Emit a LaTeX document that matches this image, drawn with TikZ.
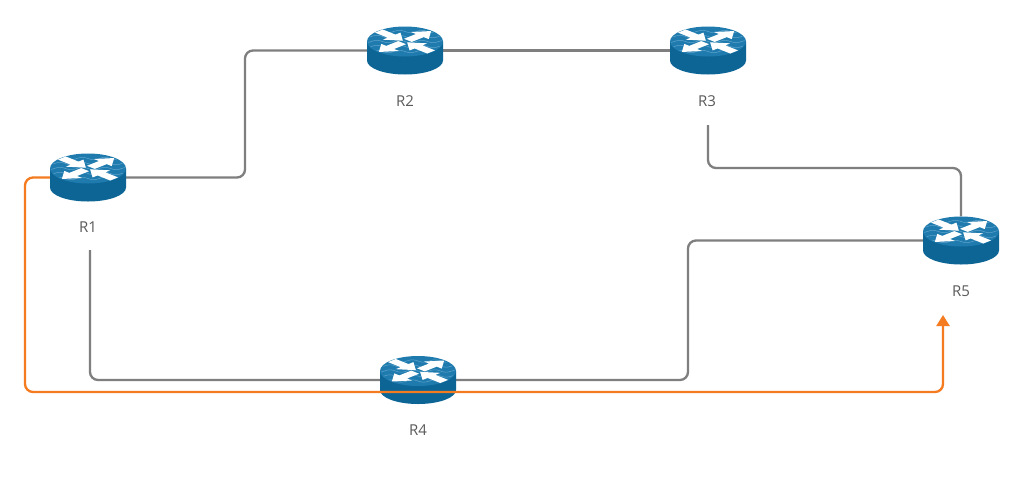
\documentclass[tikz,border=0pt]{standalone}
\usepackage{fontspec}
\setmainfont{Open Sans}
\usetikzlibrary{arrows.meta}
\definecolor{rtop}{HTML}{1F7BAE}
\definecolor{rside}{HTML}{0C6595}
\definecolor{rwave}{HTML}{5FA3CC}
\definecolor{linkgray}{HTML}{7F7F7F}
\definecolor{pathorange}{HTML}{F47B20}
\definecolor{labelgray}{HTML}{5A5A5A}
\tikzset{
  routerbox/.style={rectangle, minimum width=76pt, minimum height=48pt, inner sep=0pt},
  rlabel/.style={font=\fontsize{15}{18}\selectfont, text=labelgray, inner sep=0pt},
  link/.style={draw=linkgray, line width=2.3pt, rounded corners=8pt},
  opath/.style={draw=pathorange, line width=2.3pt, rounded corners=8pt,
    -{Triangle[length=11pt,width=13pt]}},
  router/.pic={
    \fill[rside] (-38,-9) -- (-38,10) arc[start angle=180,end angle=0,x radius=38,y radius=14] -- (38,-9) -- cycle;
    \fill[rtop] (0,-9) ellipse[x radius=38,y radius=15];
    \begin{scope}
      \clip (0,-9) ellipse[x radius=37,y radius=14];
      \foreach \dy in {-10,-5,0,5,10}{
        \draw[rwave, line width=0.5pt] plot[domain=-40:40, samples=40, smooth] (\x,{-9+\dy+1.2*sin(\x*16)});
      }
    \end{scope}
    \begin{scope}[shift={(0,-9)}, yscale=0.4]
      \foreach \a in {45,225}{
        \begin{scope}[rotate=\a]
          \fill[white] (4,-5.5)--(21,-5.5)--(21,-12.5)--(37,0)--(21,12.5)--(21,5.5)--(4,5.5)--cycle;
        \end{scope}
      }
      \foreach \a in {135,315}{
        \begin{scope}[rotate=\a]
          \fill[white] (37,-5.5)--(19,-5.5)--(19,-12.5)--(3,0)--(19,12.5)--(19,5.5)--(37,5.5)--cycle;
        \end{scope}
      }
    \end{scope}
  }
}
\begin{document}
\begin{tikzpicture}[x=1pt,y=-1pt]
  \fill[white] (0,0) rectangle (1024,488);
  \useasboundingbox (0,0) rectangle (1024,488);
  % router nodes
  \node[routerbox] (r1) at (88,177.5) {};
  \node[routerbox] (r2) at (405,50.5) {};
  \node[routerbox] (r3) at (708,50.5) {};
  \node[routerbox] (r4) at (418,380) {};
  \node[routerbox] (r5) at (961,240.5) {};
  % labels
  \node[rlabel] (l1) at (88,227) {R1};
  \node[rlabel] (l2) at (405,101) {R2};
  \node[rlabel] (l3) at (707,101) {R3};
  \node[rlabel] (l4) at (418,430) {R4};
  \node[rlabel] (l5) at (961,291) {R5};
  % free ends
  \coordinate (c1) at (90,250);
  \coordinate (c3) at (708,125);
  \coordinate (ob) at (943,392);
  \coordinate (tip) at (943,315);
  % gray links
  \draw[link] (r1.east) -| (245,110) |- (r2.west);
  \draw[link] (r2.east) -- (r3.west);
  \draw[link] (c3) |- (850,168) -| (r5.north);
  \draw[link] (c1) |- (r4.west);
  \draw[link] (r4.east) -| (688,300) |- (r5.west);
  % routers
  \foreach \n in {r1,r2,r3,r4,r5}{
    \pic at (\n.center) {router};
  }
  % orange path
  \draw[opath] (r1.west) -| (25,300) |- (ob) -- (tip);
\end{tikzpicture}
\end{document}
